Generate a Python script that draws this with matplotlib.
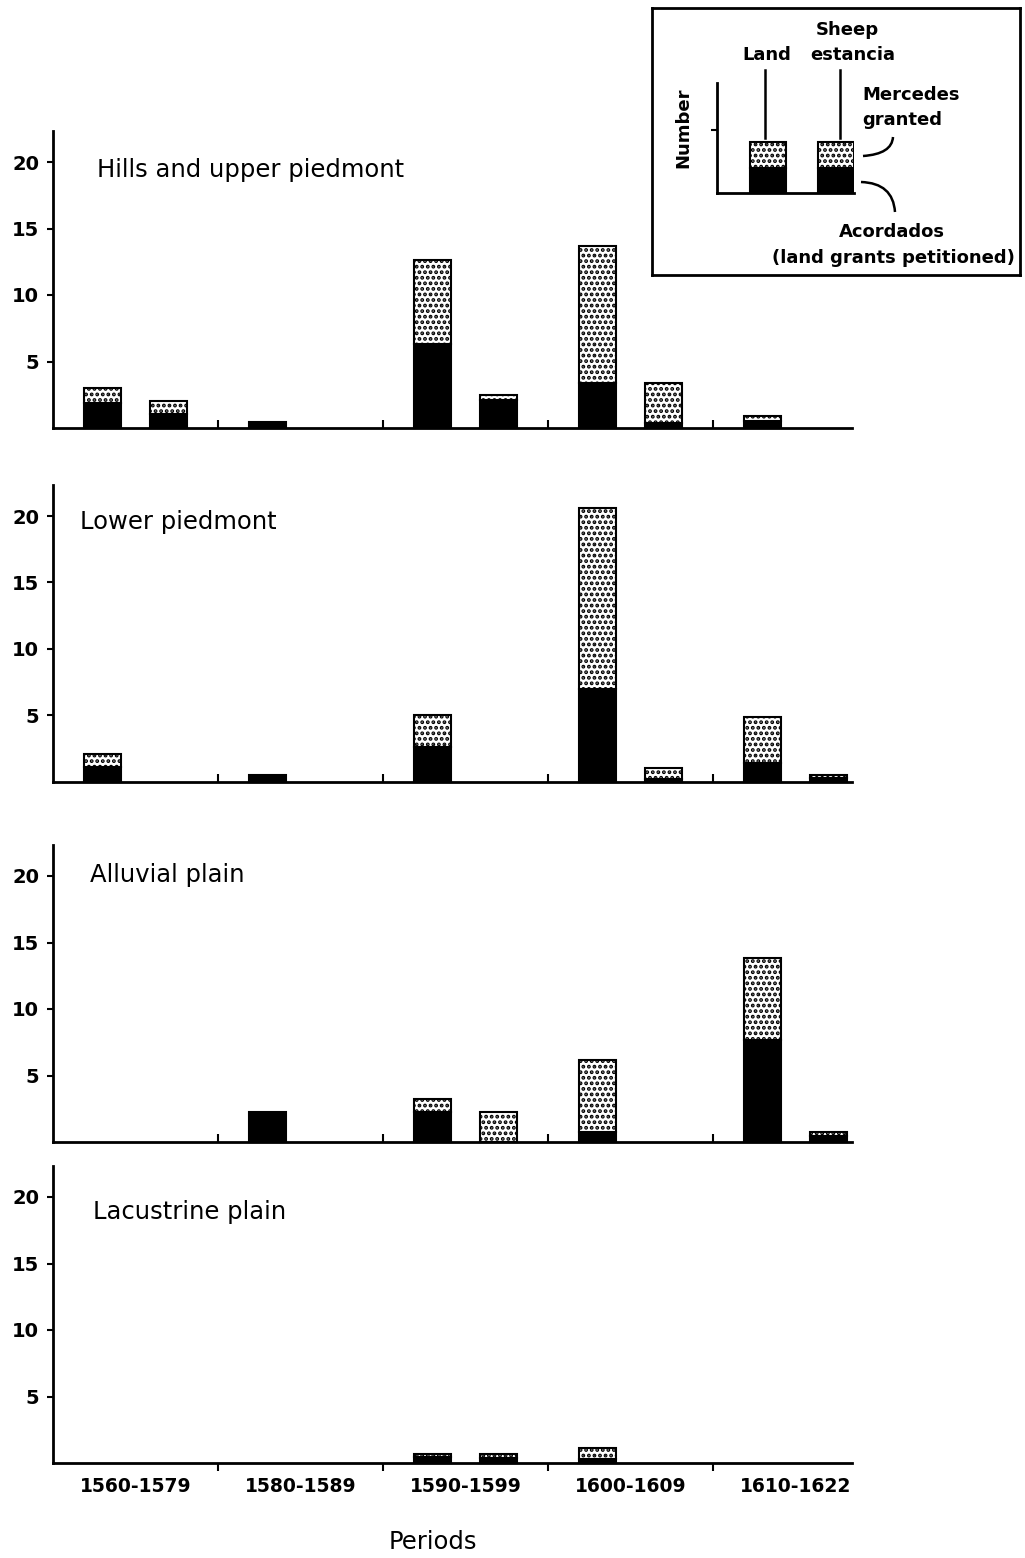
"""
Mercedes y acordados por zona y periodo (1560-1622)
"""

import numpy as np
import matplotlib
matplotlib.use("Agg")
import matplotlib.pyplot as plt
from matplotlib.path import Path
from matplotlib.patches import PathPatch

plt.rcParams["font.family"] = ["DejaVu Sans"]
plt.rcParams["hatch.linewidth"] = 1.9

# ─────────────────────────────────────────────
# DATOS (número de concesiones)
# acord = acordados (negro, abajo), merc = mercedes otorgadas (punteado, arriba)
# ─────────────────────────────────────────────

periods = ["1560-1579", "1580-1589", "1590-1599", "1600-1609", "1610-1622"]
zones = ["Hills and upper piedmont", "Lower piedmont", "Alluvial plain", "Lacustrine plain"]

hills_land_acord = [1.9, 0.45, 6.3, 3.4, 0.55]
hills_land_merc = [1.1, 0.0, 6.3, 10.3, 0.35]
hills_sheep_acord = [1.05, 0.0, 2.1, 0.4, 0.0]
hills_sheep_merc = [0.95, 0.0, 0.4, 3.0, 0.0]

lower_land_acord = [1.1, 0.5, 2.6, 7.0, 1.4]
lower_land_merc = [1.0, 0.0, 2.4, 13.6, 3.5]
lower_sheep_acord = [0.0, 0.0, 0.0, 0.2, 0.3]
lower_sheep_merc = [0.0, 0.0, 0.0, 0.85, 0.2]

alluvial_land_acord = [0.0, 2.25, 2.25, 0.75, 7.7]
alluvial_land_merc = [0.0, 0.0, 0.95, 5.45, 6.1]
alluvial_sheep_acord = [0.0, 0.0, 0.0, 0.0, 0.45]
alluvial_sheep_merc = [0.0, 0.0, 2.25, 0.0, 0.3]

lacustrine_land_acord = [0.0, 0.0, 0.45, 0.3, 0.0]
lacustrine_land_merc = [0.0, 0.0, 0.25, 0.8, 0.0]
lacustrine_sheep_acord = [0.0, 0.0, 0.4, 0.0, 0.0]
lacustrine_sheep_merc = [0.0, 0.0, 0.25, 0.0, 0.0]

# barras ilustrativas de la leyenda
legend_acord = [1.0, 1.0]
legend_merc = [1.05, 1.05]

paneles = [
    (hills_land_acord, hills_land_merc, hills_sheep_acord, hills_sheep_merc),
    (lower_land_acord, lower_land_merc, lower_sheep_acord, lower_sheep_merc),
    (alluvial_land_acord, alluvial_land_merc, alluvial_sheep_acord, alluvial_sheep_merc),
    (lacustrine_land_acord, lacustrine_land_merc, lacustrine_sheep_acord, lacustrine_sheep_merc),
]

# ─────────────────────────────────────────────
# LAYOUT (pixeles de la figura)
# ─────────────────────────────────────────────

W, H = 1025, 1558
S = 13.3            # px por unidad
YMAX = 22.3
LEFT, RIGHT = 53, 852
PER_W = 165
BW = 0.23
baselines = [428, 782, 1142, 1463]
title_pos = [(97, 170), (80, 522), (90, 875), (93, 1212)]


def px(x, y):
    return x / W, 1 - y / H


def draw_stack(ax, xs, acord, merc):
    acord = np.asarray(acord, dtype=float)
    merc = np.asarray(merc, dtype=float)
    m = acord > 0
    ax.bar(xs[m], acord[m], width=BW, color="black", edgecolor="black",
           linewidth=1.5, clip_on=False, zorder=3)
    m = merc > 0
    ax.bar(xs[m], merc[m], bottom=acord[m], width=BW, color="white",
           edgecolor="black", hatch="...", linewidth=1.5, clip_on=False, zorder=3)


fig = plt.figure(figsize=(W / 100, H / 100), dpi=100)

x = np.arange(len(periods))
for k, (la, lm, sa, sm) in enumerate(paneles):
    base = baselines[k]
    ax = fig.add_axes([LEFT / W, 1 - base / H, (RIGHT - LEFT) / W, YMAX * S / H])
    ax.set_xlim(0, (RIGHT - LEFT) / PER_W)
    ax.set_ylim(0, YMAX)

    draw_stack(ax, x + 0.30, la, lm)
    draw_stack(ax, x + 0.70, sa, sm)

    for side in ["top", "right"]:
        ax.spines[side].set_visible(False)
    for side in ["left", "bottom"]:
        ax.spines[side].set_linewidth(2)

    ax.set_yticks([5, 10, 15, 20])
    ax.tick_params(axis="y", direction="out", length=4, width=1.5,
                   labelsize=14, pad=6)
    for lbl in ax.get_yticklabels():
        lbl.set_fontweight("bold")

    ax.set_xticks([1, 2, 3, 4])
    ax.set_xticklabels([])
    last = k == len(paneles) - 1
    ax.tick_params(axis="x", which="major", direction="out" if last else "in",
                   length=6, width=1.5)
    if last:
        ax.set_xticks(x + 0.5, minor=True)
        ax.set_xticklabels(periods, minor=True)
        ax.tick_params(axis="x", which="minor", length=0, pad=10, labelsize=13.5)
        for lbl in ax.get_xticklabels(minor=True):
            lbl.set_fontweight("bold")

    tx, ty = title_pos[k]
    fig.text(*px(tx, ty), zones[k], fontsize=17.5, ha="left", va="center")

fig.text(*px(433, 1542), "Periods", fontsize=17.5, ha="center", va="center")

# ─────────────────────────────────────────────
# LEYENDA (recuadro superior derecho)
# ─────────────────────────────────────────────

box = fig.add_axes([652 / W, 1 - 275 / H, 368 / W, 267 / H])
box.set_xlim(652, 1020)
box.set_ylim(275, 8)
box.set_xticks([])
box.set_yticks([])
for sp in box.spines.values():
    sp.set_linewidth(2)

mini = fig.add_axes([717 / W, 1 - 193 / H, 137 / W, 110 / H])
mini.patch.set_alpha(0)
mini.set_xlim(0, 3.83)
mini.set_ylim(0, 4.4)
lx = np.array([1.43, 3.33])
la_ = np.asarray(legend_acord)
lm_ = np.asarray(legend_merc)
mini.bar(lx, la_, width=1.0, color="black", edgecolor="black", linewidth=1.5, zorder=3)
mini.bar(lx, lm_, bottom=la_, width=1.0, color="white", edgecolor="black",
         hatch="...", linewidth=1.5, zorder=3)
for side in ["top", "right"]:
    mini.spines[side].set_visible(False)
for side in ["left", "bottom"]:
    mini.spines[side].set_linewidth(2)
mini.set_xticks([])
mini.set_yticks([2.5])
mini.set_yticklabels([])
mini.tick_params(axis="y", direction="out", length=4, width=1.5)

box.plot([765, 765], [70, 138], color="black", lw=1.8)
box.plot([840, 840], [70, 138], color="black", lw=1.8)

for verts in [[(863, 156), (892, 154), (893, 137)],
              [(861, 182), (893, 183), (895, 212)]]:
    box.add_patch(PathPatch(Path(verts, [Path.MOVETO, Path.CURVE3, Path.CURVE3]),
                            facecolor="none", edgecolor="black", lw=1.8))

tkw = dict(fontsize=13, fontweight="bold")
box.text(847, 30, "Sheep", ha="center", va="center", **tkw)
box.text(767, 55, "Land", ha="center", va="center", **tkw)
box.text(853, 55, "estancia", ha="center", va="center", **tkw)
box.text(862, 95, "Mercedes", ha="left", va="center", **tkw)
box.text(862, 120, "granted", ha="left", va="center", **tkw)
box.text(683, 128, "Number", ha="center", va="center", rotation=90, **tkw)
box.text(892, 232, "Acordados", ha="center", va="center", **tkw)
box.text(893, 258, "(land grants petitioned)", ha="center", va="center", **tkw)

fig.savefig("out.png", dpi=100)
